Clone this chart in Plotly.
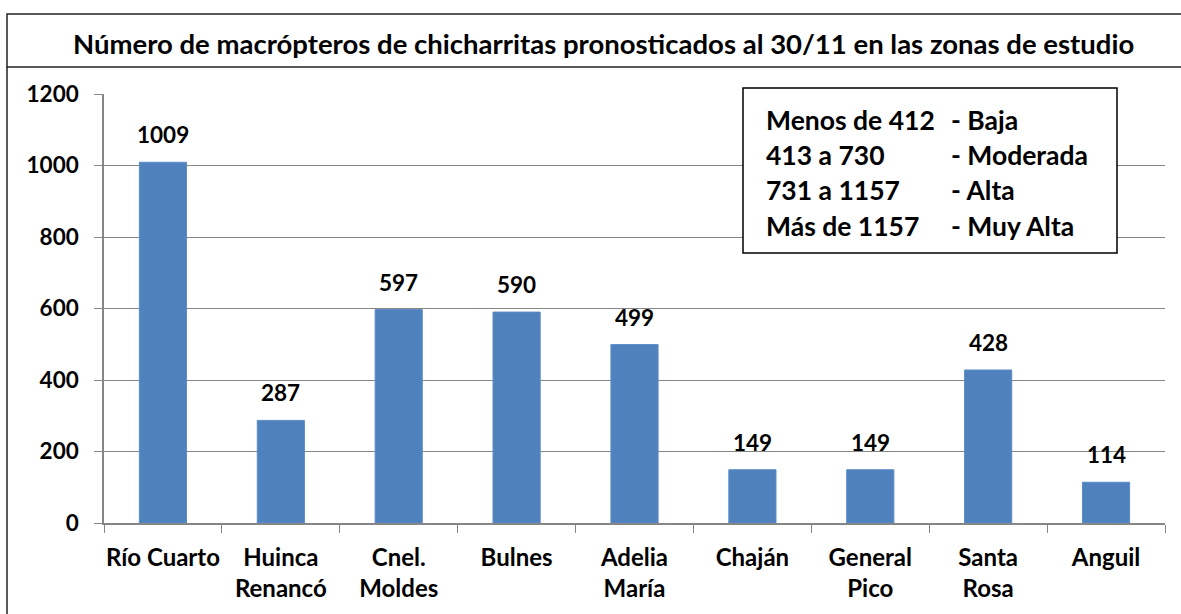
import plotly.graph_objects as go

categories = ["Río Cuarto", "Huinca<br>Renancó", "Cnel.<br>Moldes", "Bulnes", "Adelia<br>María",
              "Chaján", "General<br>Pico", "Santa<br>Rosa", "Anguil"]
values = [1009, 287, 597, 590, 499, 149, 149, 428, 114]
ranges = ["Menos de 412", "413 a 730", "731 a 1157", "Más de 1157"]
levels = ["- Baja", "- Moderada", "- Alta", "- Muy Alta"]
title = "Número de macrópteros de chicharritas pronosticados al 30/11 en las zonas de estudio"

W, H = 1181, 614
L, R, T, B = 104, 1165, 94, 523
FONT = "Lato"

def fx(p):
    return (p - L) / (R - L)

def fy(p):
    return (B - p) / (B - T)

fig = go.Figure()
fig.add_trace(go.Bar(
    x=categories, y=values, width=0.4,
    marker=dict(color="#4F81BD", line=dict(color="#5B8CC8", width=1)),
    cliponaxis=False, hoverinfo="skip",
))

annotations = []
for c, v in zip(categories, values):
    annotations.append(dict(x=c, y=v, xref="x", yref="y", text=f"<b>{v}</b>", showarrow=False,
                            yanchor="bottom", yshift=12, font=dict(size=22.5, color="black", family=FONT)))

annotations.append(dict(x=fx(603), y=fy(44), xref="paper", yref="paper", text=f"<b>{title}</b>",
                        showarrow=False, xanchor="center", yanchor="middle",
                        font=dict(size=27.5, color="black", family=FONT)))

row_y = [120, 155, 190, 226]
for ry, rg, lv in zip(row_y, ranges, levels):
    annotations.append(dict(x=fx(764), y=fy(ry), xref="paper", yref="paper", text=f"<b>{rg}</b>",
                            showarrow=False, xanchor="left", yanchor="middle",
                            font=dict(size=26.5, color="black", family=FONT)))
    annotations.append(dict(x=fx(949), y=fy(ry), xref="paper", yref="paper", text=f"<b>{lv}</b>",
                            showarrow=False, xanchor="left", yanchor="middle",
                            font=dict(size=26.5, color="black", family=FONT)))

shapes = [
    dict(type="rect", xref="paper", yref="paper", x0=fx(7), x1=fx(1200), y0=fy(67), y1=fy(14),
         line=dict(color="#222222", width=1.5), fillcolor="rgba(0,0,0,0)", layer="above"),
    dict(type="line", xref="paper", yref="paper", x0=fx(7), x1=fx(7), y0=fy(67), y1=fy(630),
         line=dict(color="#222222", width=1.5)),
    dict(type="rect", xref="paper", yref="paper", x0=fx(743), x1=fx(1117), y0=fy(253), y1=fy(88),
         line=dict(color="black", width=1.5), fillcolor="white", layer="above"),
]

fig.update_layout(
    width=W, height=H,
    margin=dict(l=L, r=W - R, t=T, b=H - B, autoexpand=False),
    paper_bgcolor="white", plot_bgcolor="white",
    showlegend=False,
    annotations=annotations, shapes=shapes,
    bargap=0.6,
    xaxis=dict(
        type="category", tickson="boundaries", ticks="outside", ticklen=8, tickcolor="#868686",
        showline=True, linecolor="#868686", linewidth=1.5, showgrid=False,
        tickfont=dict(size=24, color="black", family=FONT), tickprefix="<b>", ticksuffix="</b>",
        ticklabelstandoff=12, tickangle=0, automargin=False,
    ),
    yaxis=dict(
        range=[0, 1200], dtick=200, ticks="outside", ticklen=8, tickcolor="#868686",
        showline=True, linecolor="#868686", linewidth=1.5,
        showgrid=True, gridcolor="#868686", gridwidth=1, zeroline=False,
        tickfont=dict(size=22.5, color="black", family=FONT), tickprefix="<b>", ticksuffix="</b>",
        ticklabelstandoff=11, automargin=False,
    ),
)

fig.write_html("out.html", config={"displayModeBar": False},
               post_script="document.body.style.margin='0';")
